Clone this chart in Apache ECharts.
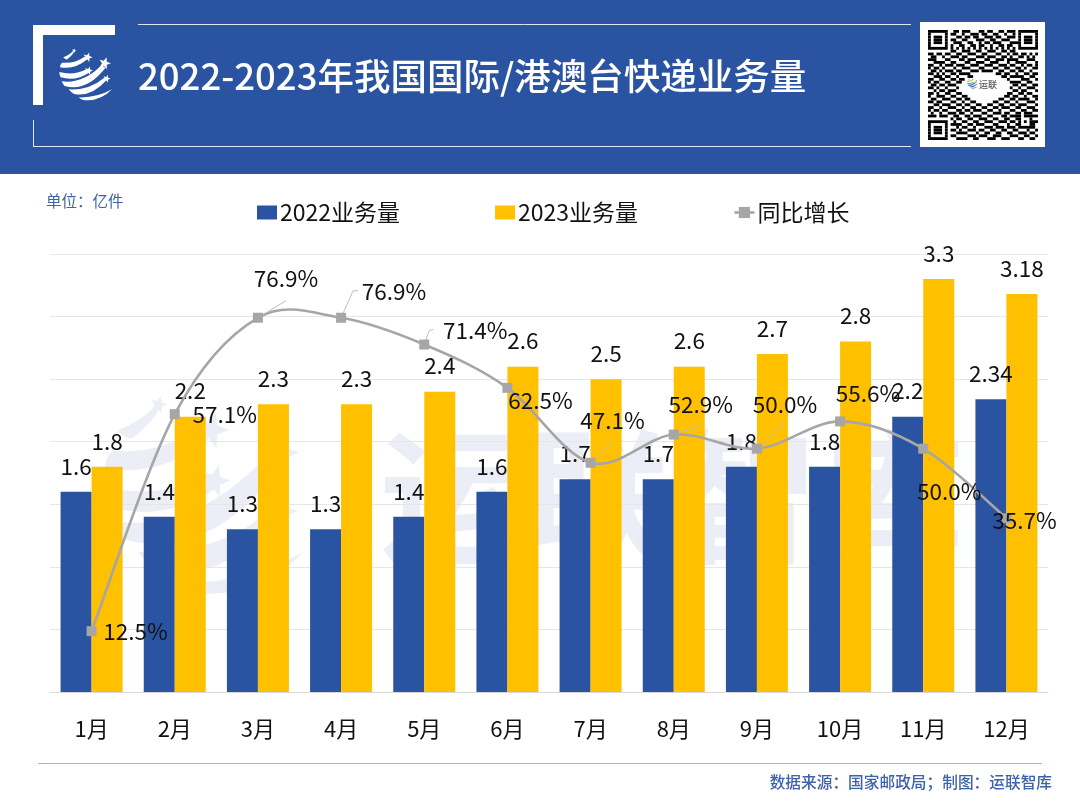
<!DOCTYPE html>
<html>
<head>
<meta charset="utf-8">
<style>html,body{margin:0;padding:0;background:#fff}#chart{width:1080px;height:805px}</style>
<script src="https://cdn.jsdelivr.net/npm/echarts@6/dist/echarts.min.js"></script>
</head>
<body>
<div id="chart"></div>
<script>
var months = ['1月','2月','3月','4月','5月','6月','7月','8月','9月','10月','11月','12月'];
var volume2022 = [1.6,1.4,1.3,1.3,1.4,1.6,1.7,1.7,1.8,1.8,2.2,2.34];
var volume2023 = [1.8,2.2,2.3,2.3,2.4,2.6,2.5,2.6,2.7,2.8,3.3,3.18];
var growth = [12.5,57.1,76.9,76.9,71.4,62.5,47.1,52.9,50.0,55.6,50.0,35.7];

var FONT = '"Noto Sans CJK SC", "Noto Sans", sans-serif';
var BLUE = '#2a54a1', YELLOW = '#ffc000', GREY = '#a6a6a6';

// where each growth label sits relative to its point
var growthLabelShift = [[44,0],[50,0],[28,-39],[53,-26],[51,-14],[33,13],[22,-42],[27,-30],[28,-44],[28,-28],[26,43],[18,2]];
// thin leader lines, as offsets from the point
var growthLeader = {
  2: [[0,0],[28,-17]],
  3: [[0,0],[12,-27],[17,-27]],
  4: [[0,0],[5,-14],[9,-15]],
  6: [[0,0],[22,-21]],
  7: [[0,0],[27,-9]],
  8: [[0,0],[28,-26]]
};

// qr code
var qrRows = [
'111111100110111000110110011011101111111',
'100000101100100111011001100100101000001',
'101110100011011011001110110011101011101',
'101110101100110001110011001110001011101',
'101110100111001100101101110001111011101',
'100000101001100110110010011011001000001',
'111111101010101010101010101010101111111',
'000000001100111001100111001101100000000',
'110110110011001110011000110010110110101',
'011001001110110001110111001101001101010',
'111000110001101110001100111011110001110',
'001111001100011001110011100010011110001',
'110010111011100111001110011101100101101',
'101101000100111000110001100110011010011',
'011010111011000111011110011001101100100',
'110101001101111000000000110110010011011',
'001110110010001100000000001101111100110',
'110011001101100000000000000010000111001',
'101100110011000000000000000001111001100',
'011011011100000000000000000000110110011',
'110100100010000000000000000001001001110',
'001011011100000000000000000000110110001',
'110100110011000000000000000011001101100',
'100111001100110000000000000110110010011',
'011001110011011000000000011001101111001',
'110110001100100110000001100110010001110',
'001101110011011001100110011001101110001',
'110010011100100110011001101110011001110',
'101101100011011011100110010001100110011',
'010010011101100100011001110110011011100',
'111011100110011011100110001101111011111',
'000000001011001100111001100110011000100',
'111111100100110011001110011101101010111',
'100000101111001101110001100010011000110',
'101110100010110010001110111011101111110',
'101110101101001110110011001100110001001',
'101110100011110001001100110011001110110',
'100000101100001110111001110001110011001',
'111111100011110011000111001110001100110'
];

// logo outline in a 210 x 210 box
function star(cx, cy, r) {
  var d = '';
  for (var i = 0; i < 10; i++) {
    var rr = i % 2 ? r * 0.42 : r;
    var a = -Math.PI / 2 + 0.3 + i * Math.PI / 5;
    d += (i ? 'L' : 'M') + (cx + rr * Math.cos(a)).toFixed(1) + ' ' + (cy + rr * Math.sin(a)).toFixed(1);
  }
  return d + 'Z';
}
var logoPath =
  'M40 52Q58 46 75 28Q74 40 52 58Q46 60 40 52Z' +
  'M36 68Q72 72 104 50L112 58Q74 90 30 82Q30 74 36 68Z' +
  'M28 96Q72 108 112 86L120 96Q78 126 32 112Q28 104 28 96Z' +
  'M35 124Q100 132 155 75L166 84Q110 156 44 138Q38 132 35 124Z' +
  'M56 148Q116 152 162 114L170 120Q124 172 72 162Q62 156 56 148Z' +
  'M86 172Q140 174 186 148Q150 186 100 180Q92 178 86 172Z' +
  star(113, 52, 15) + star(116, 92, 13) + star(164, 70, 19) + star(170, 116, 12) + star(72, 32, 7);

echarts.graphic.registerShape('yunlianLogo', echarts.graphic.extendPath(logoPath, {}));

function logoAt(x, y, scale, fill, z) {
  return {
    type: 'group', x: x, y: y, scaleX: scale, scaleY: scale, silent: true,
    children: [{ type: 'yunlianLogo', shape: {}, style: { fill: fill }, z: z }]
  };
}

function qrCode(x, y, size) {
  var children = [];
  qrRows.forEach(function (row, r) {
    var start = -1;
    for (var c = 0; c <= row.length; c++) {
      if (row[c] === '1' && start < 0) start = c;
      if (row[c] !== '1' && start >= 0) {
        children.push({ type: 'rect', z: 6, shape: { x: start * size, y: r * size, width: (c - start) * size, height: size }, style: { fill: '#000' } });
        start = -1;
      }
    }
  });
  return { type: 'group', x: x, y: y, children: children };
}

function line(x1, y1, x2, y2, color, w) {
  return { type: 'line', shape: { x1: x1, y1: y1, x2: x2, y2: y2 }, style: { stroke: color, lineWidth: w }, z: 6 };
}

var miniLogoFill = new echarts.graphic.LinearGradient(0, 0, 0, 1, [
  { offset: 0, color: '#f0a030' }, { offset: 0.4, color: '#6cb86a' }, { offset: 0.7, color: '#3d8fd0' }, { offset: 1, color: '#8a5cc0' }
]);

var graphics = [
  { type: 'rect', shape: { x: 0, y: 0, width: 1080, height: 174 }, style: { fill: BLUE }, z: 5 },
  { type: 'rect', shape: { x: 33, y: 25, width: 82, height: 10 }, style: { fill: '#fff' }, z: 6 },
  { type: 'rect', shape: { x: 33, y: 25, width: 10, height: 80 }, style: { fill: '#fff' }, z: 6 },
  line(138, 24.5, 911, 24.5, '#dfe6f5', 1),
  line(33.5, 120, 33.5, 146, '#dfe6f5', 1),
  line(33, 146.5, 911, 146.5, '#dfe6f5', 1),
  logoAt(50, 40, 1 / 3, '#fff', 6),
  { type: 'text', x: 138, y: 76, z: 6, style: { text: '2022-2023年我国国际/港澳台快递业务量', fill: '#fff', font: '500 36.5px ' + FONT, textVerticalAlign: 'middle' } },
  { type: 'rect', shape: { x: 920, y: 22, width: 125, height: 125 }, style: { fill: '#fff' }, z: 5 },
  qrCode(928, 30, 2.82),
  logoAt(965, 76, 0.07, miniLogoFill, 7),
  { type: 'text', x: 988, y: 85, z: 7, style: { text: '运联', fill: '#555', font: '500 9px ' + FONT, textAlign: 'center', textVerticalAlign: 'middle' } },
  { type: 'text', x: 46, y: 201, z: 6, style: { text: '单位：亿件', fill: '#3d62aa', font: '15.5px ' + FONT, textVerticalAlign: 'middle' } },
  line(38, 763.5, 1042, 763.5, '#a3b2dc', 1),
  { type: 'text', x: 1052, y: 782, z: 6, style: { text: '数据来源：国家邮政局；制图：运联智库', fill: '#3d62aa', font: '500 15.7px ' + FONT, textAlign: 'right', textVerticalAlign: 'middle' } },
  // watermark
  logoAt(67, 364, 1.27, '#eceef7', 0),
  { type: 'text', x: 380, y: 496, z: 0, style: { text: '运联智库', fill: '#eceef7', font: '700 146px ' + FONT, textVerticalAlign: 'middle' } }
];

function barLabel() {
  return { show: true, position: 'top', distance: 14.5, color: '#111', fontFamily: FONT, fontSize: 22.5 };
}

// the original curve overshoots between points, which the line series clamps, so draw it segment by segment
function renderCurveSegment(params, api) {
  var i = params.dataIndex;
  function pt(k) {
    k = Math.max(0, Math.min(growth.length - 1, k));
    return api.coord([months[k], growth[k]]);
  }
  var children = [];
  var p1 = pt(i);
  if (i < growth.length - 1) {
    var p0 = pt(i - 1), p2 = pt(i + 1), p3 = pt(i + 2);
    children.push({
      type: 'bezierCurve',
      shape: {
        x1: p1[0], y1: p1[1], x2: p2[0], y2: p2[1],
        cpx1: p1[0] + (p2[0] - p0[0]) / 6, cpy1: p1[1] + (p2[1] - p0[1]) / 6,
        cpx2: p2[0] - (p3[0] - p1[0]) / 6, cpy2: p2[1] - (p3[1] - p1[1]) / 6
      },
      style: { stroke: GREY, lineWidth: 2.6, fill: null }
    });
  }
  if (growthLeader[i]) {
    children.push({
      type: 'polyline',
      shape: { points: growthLeader[i].map(function (o) { return [p1[0] + o[0], p1[1] + o[1]]; }) },
      style: { stroke: '#bfbfbf', lineWidth: 1, fill: null }
    });
  }
  return { type: 'group', children: children };
}

var chart = echarts.init(document.getElementById('chart'));

chart.setOption({
  animation: false,
  backgroundColor: '#fff',
  graphic: { elements: graphics },
  legend: {
    left: 252, top: 196, itemWidth: 20, itemHeight: 14, itemGap: 95,
    textStyle: { color: '#111', fontFamily: FONT, fontSize: 23, padding: [0, 0, 0, -2] },
    data: [
      { name: '2022业务量', icon: 'rect' },
      { name: '2023业务量', icon: 'rect' },
      { name: '同比增长', lineStyle: { color: GREY, width: 2.6, opacity: 1 } }
    ]
  },
  grid: { left: 50, right: 32, top: 254, bottom: 113 },
  xAxis: {
    type: 'category', data: months,
    axisTick: { show: false },
    axisLine: { lineStyle: { color: '#d9d9d9', width: 1 } },
    axisLabel: { color: '#111', fontFamily: FONT, fontSize: 22, margin: 26 }
  },
  yAxis: [
    { type: 'value', min: 0, max: 3.5, interval: 0.5, axisLabel: { show: false }, axisLine: { show: false }, axisTick: { show: false }, splitLine: { lineStyle: { color: '#e7e6e6', width: 1 } } },
    { type: 'value', min: 0, max: 90, show: false, splitLine: { show: false } }
  ],
  series: [
    { name: '2022业务量', type: 'bar', data: volume2022, barWidth: 31, barGap: 0, itemStyle: { color: BLUE }, label: barLabel(), z: 2 },
    { name: '2023业务量', type: 'bar', data: volume2023, barWidth: 31, barGap: 0, itemStyle: { color: YELLOW }, label: barLabel(), z: 2 },
    {
      type: 'custom', yAxisIndex: 1, z: 3, silent: true, clip: false,
      data: growth.map(function (v, i) { return [months[i], v]; }),
      encode: { x: 0, y: 1 },
      renderItem: renderCurveSegment
    },
    {
      name: '同比增长', type: 'line', yAxisIndex: 1, data: growth,
      symbol: 'rect', symbolSize: 10, z: 4,
      lineStyle: { color: GREY, width: 2.6, opacity: 0 }, itemStyle: { color: GREY },
      label: {
        show: true, position: 'inside', color: '#111', fontFamily: FONT, fontSize: 22.5,
        formatter: function (p) { return p.value.toFixed(1) + '%'; }
      },
      labelLayout: function (p) {
        var s = growthLabelShift[p.dataIndex];
        return { dx: s[0], dy: s[1] };
      }
    }
  ]
});
</script>
</body>
</html>
